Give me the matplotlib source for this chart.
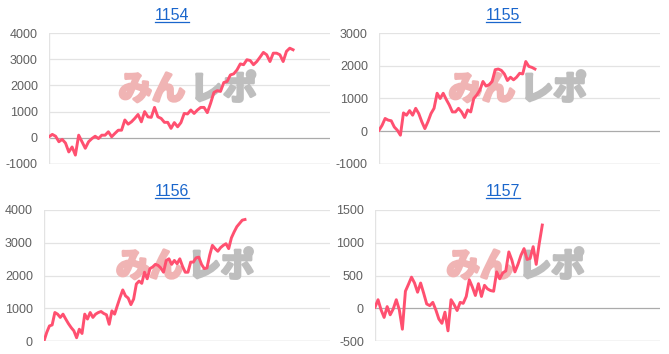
#!/usr/bin/env python3
# -*- coding: utf-8 -*-
"""
4 small cumulative-balance charts (1154..1157) with the みんレポ watermark.
Output -> out.png (669x354)
"""
import numpy as np
import matplotlib
matplotlib.use("Agg")
import matplotlib.pyplot as plt
import matplotlib.patheffects as pe
from matplotlib.lines import Line2D

TITLES = ["1154", "1155", "1156", "1157"]

# values
S1154 = [40, 130, 60, -150, -60, -200, -540, -350, -660, 100,
         -150, -400, -150, -30, 60, -30, 100, 100, 230, 40,
         170, 290, 290, 680, 520, 610, 740, 890, 610, 1000,
         800, 780, 1160, 800, 740, 590, 590, 360, 580, 420,
         580, 930, 910, 1060, 930, 1060, 1160, 1160, 960, 1320,
         1730, 1800, 1770, 2110, 2150, 2400, 2440, 2590, 2820, 2790,
         2980, 2950, 2790, 2910, 3080, 3260, 3170, 2910, 3230, 3230,
         3170, 2910, 3300, 3420, 3360]
S1155 = [30, 180, 390, 340, 320, 130, 30, -120, 560, 490,
         630, 490, 700, 540, 290, 80, 290, 540, 700, 1160,
         1000, 1160, 970, 800, 590, 590, 700, 590, 420, 650,
         590, 1000, 1110, 1260, 1520, 1380, 1420, 1520, 1880, 1900,
         1860, 1750, 1550, 1650, 1570, 1650, 1770, 1750, 2130, 1980,
         1950, 1900]
S1156 = [0, 260, 460, 490, 870, 820, 720, 820, 670, 530,
         410, 310, 100, 360, 230, 820, 670, 870, 720, 820,
         870, 900, 840, 800, 510, 920, 820, 1080, 1330, 1560,
         1380, 1310, 1110, 1280, 1740, 1830, 1760, 2100, 1900, 2210,
         2260, 2340, 2310, 2230, 2100, 2460, 2510, 2340, 2460, 2360,
         2510, 2280, 2100, 2100, 2410, 2410, 2540, 2560, 2340, 2210,
         2230, 2620, 2920, 2820, 2740, 2850, 2920, 2970, 2820, 3150,
         3330, 3490, 3590, 3690, 3710]
S1157 = [15, 130, -25, -140, 25, -100, -10, 130, -25, -320,
         260, 365, 475, 385, 245, 385, 230, 65, 40, 90,
         -25, -165, -230, -60, -345, 130, 55, -35, 90, 75,
         180, 435, 325, 195, 375, 180, 350, 295, 270, 260,
         555, 450, 540, 570, 860, 735, 555, 670, 810, 910,
         745, 760, 940, 670, 990, 1270]
SERIES = [S1154, S1155, S1156, S1157]

YTICKS = [
    [-1000, 0, 1000, 2000, 3000, 4000],
    [-1000, 0, 1000, 2000, 3000],
    [0, 1000, 2000, 3000, 4000],
    [-500, 0, 500, 1000, 1500],
]
XMAX = [85.2, 91.9, 105.3, 93.7]

W, H = 669, 354
# axes boxes in pixels: left, right, top, bottom
BOXES = [(49, 330, 33, 164), (379, 660, 33, 164),
         (44, 330, 210, 341), (375, 660, 210, 341)]
TITLE_POS = [(172, 15), (503, 15), (172, 191), (503, 191)]

LINE_C = "#ff5070"
GRID_C = "#e3e3e3"
BASE_C = "#ababab"
TICK_C = "#606060"
LINK_C = "#1a66cc"
WM_FONT = ["Noto Sans CJK JP", "DejaVu Sans"]

fig = plt.figure(figsize=(W / 100, H / 100), dpi=100)
fig.patch.set_facecolor("white")

titles = []
for i, ys in enumerate(SERIES):
    l, r, t, b = BOXES[i]
    ax = fig.add_axes([l / W, 1 - b / H, (r - l) / W, (b - t) / H])
    x = np.arange(len(ys))
    yt = YTICKS[i]

    for v in yt:
        c = BASE_C if v in (0, yt[0]) else GRID_C
        ax.axhline(v, color=c, lw=0.9, zorder=1)
    ax.axvline(0, color=GRID_C, lw=1.0, zorder=1)

    # watermark (thickened with a stroke of its own colour)
    for txt, ha, col, dx in (("みん", "right", "#f0b4b4", -0.005),
                             ("レポ", "left", "#bebebe", 0.012)):
        ax.text(0.49 + dx, 0.565, txt, transform=ax.transAxes, ha=ha, va="center",
                fontsize=24, fontweight="bold", color=col, family=WM_FONT,
                zorder=2, path_effects=[pe.withStroke(linewidth=2.2, foreground=col)])

    ax.plot(x, ys, color=LINE_C, lw=2.1, zorder=3)

    ax.set_xlim(0, XMAX[i])
    ax.set_ylim(yt[0], yt[-1])
    ax.set_yticks(yt)
    ax.set_yticklabels([str(v) for v in yt], fontsize=9, color=TICK_C,
                       family="Liberation Sans")
    ax.set_xticks([])
    ax.tick_params(axis="y", length=0, pad=8)
    for s in ax.spines.values():
        s.set_visible(False)
    ax.patch.set_alpha(0)

    tx, ty = TITLE_POS[i]
    titles.append(fig.text(tx / W, 1 - ty / H, TITLES[i], ha="center", va="center",
                           fontsize=11.5, color=LINK_C, family="Liberation Sans"))

# underline the link-style titles
fig.canvas.draw()
rend = fig.canvas.get_renderer()
for t in titles:
    bb = t.get_window_extent(rend)
    yline = (bb.y0 + 1) / H
    fig.add_artist(Line2D([bb.x0 / W, bb.x1 / W], [yline, yline],
                          color=LINK_C, lw=0.9, transform=fig.transFigure))

fig.savefig("out.png", dpi=100)
plt.close(fig)
